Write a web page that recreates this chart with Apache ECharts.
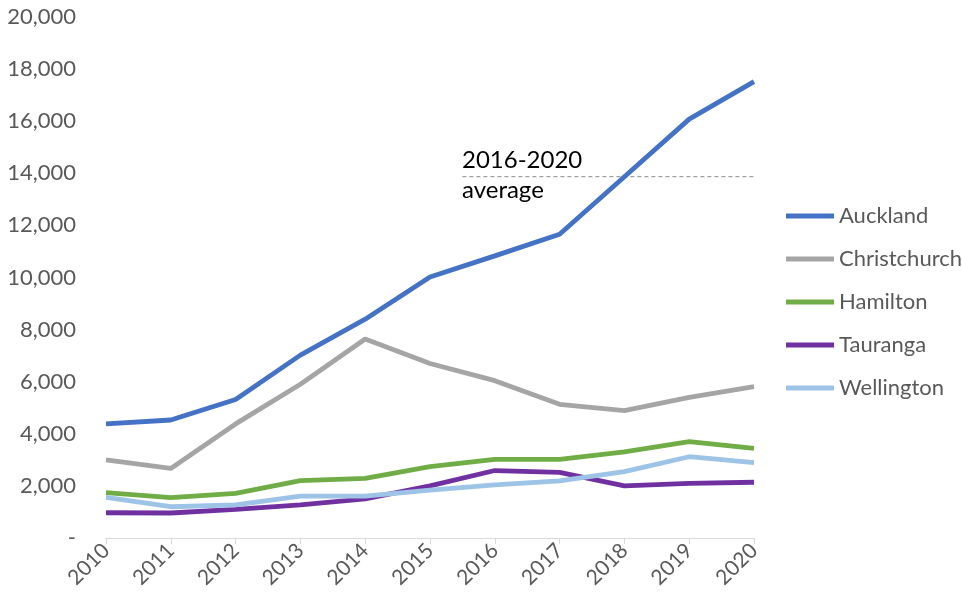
<!DOCTYPE html>
<html>
<head>
<meta charset="utf-8">
<script src="https://cdn.jsdelivr.net/npm/echarts@6/dist/echarts.min.js"></script>
<style>
html,body{margin:0;padding:0;background:#fff;}
#chart{width:962px;height:605px;}
</style>
</head>
<body>
<div id="chart"></div>
<script>
var years = ['2010','2011','2012','2013','2014','2015','2016','2017','2018','2019','2020'];
var auckland     = [4380, 4530, 5320, 7020, 8400, 10020, 10830, 11660, 13870, 16080, 17520];
var christchurch = [3000, 2670, 4380, 5900, 7640, 6700, 6040, 5130, 4890, 5400, 5810];
var hamilton     = [1740, 1550, 1710, 2200, 2290, 2740, 3020, 3020, 3310, 3700, 3440];
var tauranga     = [970, 960, 1100, 1270, 1500, 2000, 2590, 2520, 2000, 2100, 2140];
var wellington   = [1560, 1200, 1270, 1610, 1610, 1840, 2040, 2190, 2550, 3120, 2890];
var avgValue = 13870;
var avgStart = 5.5;   // between 2015 and 2016 (category index)
var avgEnd = 10;      // 2020
var avgLabel = ['2016-2020', 'average'];

var FONT = 'Lato';
var grey = '#595959';

var names = ['Auckland','Christchurch','Hamilton','Tauranga','Wellington'];
var values = [auckland, christchurch, hamilton, tauranga, wellington];
var colors = ['#4472C4','#A5A5A5','#70AD47','#7030A0','#9DC3E6'];

var series = names.map(function(n, i){
  return {
    name: n, type: 'line', data: values[i], symbol: 'none', smooth: false,
    lineStyle: {width: 4.8, color: colors[i]}, itemStyle: {color: colors[i]},
    xAxisIndex: 0, yAxisIndex: 0, z: 3
  };
});
series.push({
  name: 'avg', type: 'line', xAxisIndex: 1, yAxisIndex: 0, symbol: 'none',
  data: [[avgStart, avgValue], [avgEnd, avgValue]],
  lineStyle: {width: 1, color: '#8c8c8c', type: [4, 3]}, z: 2, silent: true
});

var chart = echarts.init(document.getElementById('chart'), null, {renderer: 'canvas'});
chart.setOption({
  animation: false,
  backgroundColor: '#ffffff',
  textStyle: {fontFamily: FONT},
  grid: {left: 106, right: 208, top: 17, bottom: 67, containLabel: false, outerBoundsMode: 'none'},
  legend: {
    data: names, orient: 'vertical', left: 781, top: 200,
    icon: 'rect', itemWidth: 48, itemHeight: 5, itemGap: 21,
    textStyle: {fontFamily: FONT, fontSize: 22, color: grey, lineHeight: 22, padding: [0,0,0,0]}
  },
  xAxis: [{
    type: 'category', data: years, boundaryGap: false,
    axisLine: {show: true, lineStyle: {color: '#D9D9D9', width: 1}},
    axisTick: {show: true, length: 6, lineStyle: {color: '#D9D9D9'}},
    axisLabel: {rotate: 45, fontFamily: FONT, fontSize: 21, color: grey, margin: 9, interval: 0},
    splitLine: {show: false}
  }, {
    type: 'value', min: 0, max: 10, show: false
  }],
  yAxis: {
    type: 'value', min: 0, max: 20000, interval: 2000,
    axisLine: {show: false}, axisTick: {show: false}, splitLine: {show: false},
    axisLabel: {
      fontFamily: FONT, fontSize: 22, color: grey, margin: 30,
      formatter: function(v){ return v === 0 ? '-' : v.toLocaleString('en-US'); }
    }
  },
  graphic: [
    {type: 'text', left: 462, top: 148, style: {text: avgLabel[0], font: '24px ' + FONT, fill: '#000'}},
    {type: 'text', left: 462, top: 178, style: {text: avgLabel[1], font: '24px ' + FONT, fill: '#000'}}
  ],
  series: series
});
</script>
</body>
</html>
